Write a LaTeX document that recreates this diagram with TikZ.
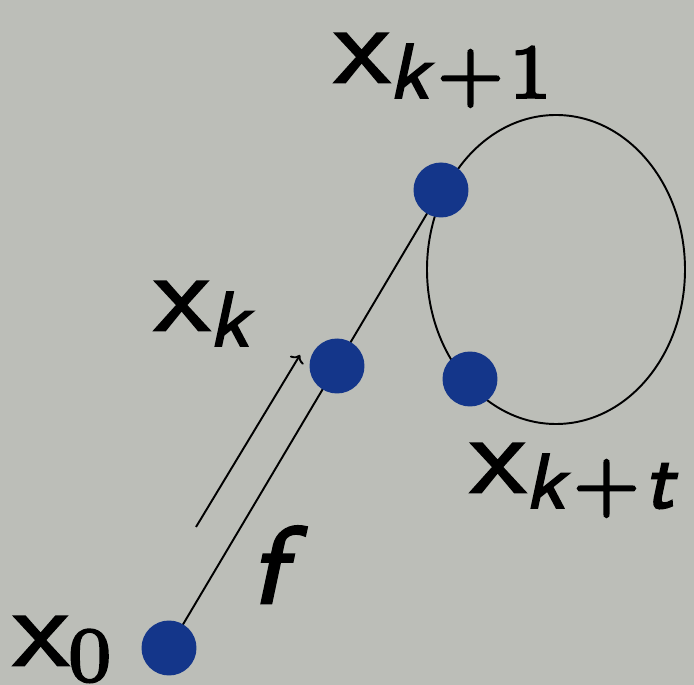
\documentclass[tikz,border=0pt]{standalone}
\usetikzlibrary{arrows.meta}
\DeclareFontFamily{TU}{lmssE}{}
\DeclareFontShape{TU}{lmssE}{m}{n}{<-> \UnicodeFontFile{lmsans8-regular}{\UnicodeFontTeXLigatures;embolden=2.5}}{}
\DeclareFontShape{TU}{lmssE}{m}{sl}{<-> \UnicodeFontFile{lmsans8-oblique}{\UnicodeFontTeXLigatures;embolden=2.5}}{}
\DeclareFontFamily{TU}{lmrS}{}
\DeclareFontShape{TU}{lmrS}{m}{n}{<-> \UnicodeFontFile{lmroman7-regular}{\UnicodeFontTeXLigatures;embolden=3}}{}
\newcommand\mainf{\fontsize{62}{70}\usefont{TU}{lmssE}{m}{n}}
\newcommand\subit{\usefont{TU}{lmssE}{m}{sl}}
\newcommand\subrm{\usefont{TU}{lmrS}{m}{n}}
\newcommand\pls{\hspace{0.1em}{\subrm +}\hspace{0.05em}}
\definecolor{bgcol}{RGB}{188,190,184}
\definecolor{dotcol}{RGB}{20,54,138}
\pgfdeclarelayer{back}
\pgfdeclarelayer{lines}
\pgfsetlayers{back,lines,main}
\newcommand\subsc[1]{\raisebox{-9pt}{\fontsize{44}{50}\selectfont #1}}
\tikzset{
  dot/.style={circle,fill=dotcol,inner sep=0pt,minimum size=1.1cm},
  lbl/.style={anchor=base west,inner sep=0pt,font=\mainf},
  ln/.style={line width=1.1pt,black}
}
\begin{document}
\begin{tikzpicture}[x=0.02cm,y=-0.02cm]
\begin{pgfonlayer}{back}
\fill[bgcol] (0,0) rectangle (694,685);
\end{pgfonlayer}
\useasboundingbox (0,0) rectangle (694,685);
\node[dot] (x0) at (169,648) {};
\node[dot] (xk) at (337,366) {};
\node[dot] (xk1) at (441,190) {};
\node[dot] (xkt) at (470,379) {};
\coordinate (c) at (556,269.5);
\coordinate (a1) at (196,527);
\coordinate (a2) at (300,355);
\begin{pgfonlayer}{lines}
\draw[ln] (x0.center) -- (xk1.center);
\draw[ln] (c) ellipse [x radius=129, y radius=154.5];
\draw[ln,-{To[length=4pt,width=9pt]}] (a1) -- (a2);
\end{pgfonlayer}
\node[lbl] (l0) at (14,665) {x\subsc{\subrm 0}};
\node[lbl] (lk) at (155,330) {x\subsc{\subit k}};
\node[lbl] (lk1) at (335,82) {x\subsc{{\subit k}\pls{\subrm 1}}};
\node[lbl] (lkt) at (471,492) {x\subsc{{\subit k}\pls{\subit t}}};
\node[lbl] (lf) at (250,603) {\subit f};
\end{tikzpicture}
\end{document}
